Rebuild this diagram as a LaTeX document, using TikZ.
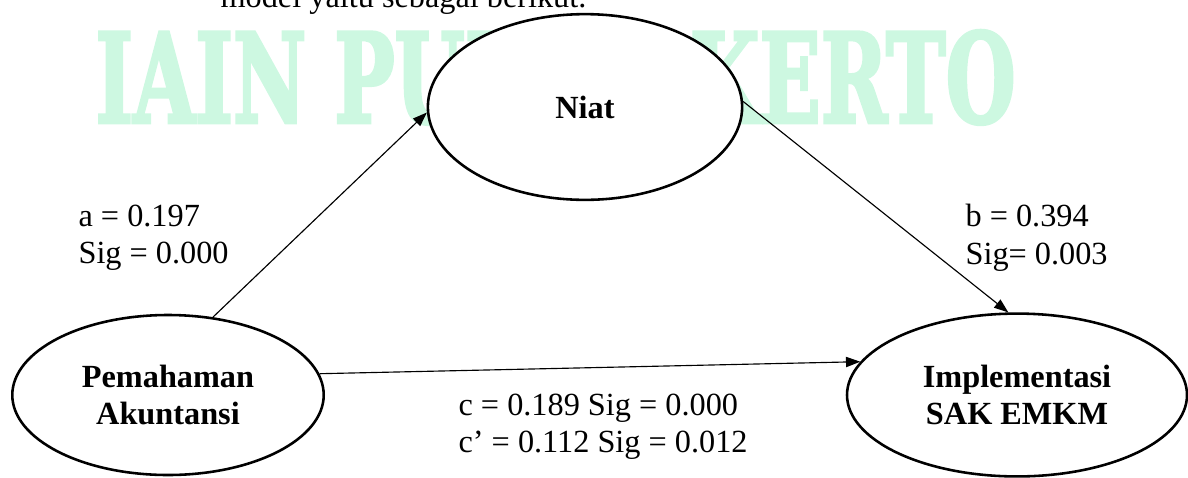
\documentclass[tikz,border=0pt]{standalone}
\usepackage{fontspec}
\setmainfont{Liberation Serif}
\newfontfamily\wmfont{DejaVu Serif}[BoldFeatures={FakeBold=3}]
\usepackage{xcolor}
\usetikzlibrary{arrows.meta, positioning, shapes.geometric}
\definecolor{wmgreen}{RGB}{205,248,225}

\begin{document}
\begin{tikzpicture}[
    x=0.35pt, y=-0.35pt,
    every node/.style={font=\fontsize{11.3}{13}\selectfont},
    var/.style={draw, ellipse, line width=0.9pt, fill=white, inner sep=0pt, align=center, font=\fontsize{11.3}{13}\selectfont\bfseries},
    lbl/.style={anchor=north west, inner sep=0pt, align=left},
    wmark/.style={anchor=north west, inner sep=0pt, text=wmgreen, font=\wmfont\bfseries},
    arr/.style={-{Triangle[length=5pt, width=3.6pt]}, line width=0.4pt}
]
\useasboundingbox (0,0) rectangle (1188,477);

% page text behind the figure
\node[anchor=base west, inner sep=0pt] (line) at (220,7) {model yaitu sebagai berikut.};
\node[wmark] (wm) at (95,30) {\resizebox{322pt}{32.2pt}{IAIN PURWOKERTO}};

% variables
\node[var, minimum width=110pt, minimum height=65pt] (niat) at (585,107) {\raisebox{-3pt}{Niat}};
\node[var, minimum width=109pt, minimum height=56pt] (paham) at (168,395) {Pemahaman\\Akuntansi};
\node[var, minimum width=119pt, minimum height=57pt] (sak) at (1017,395) {Implementasi\\SAK EMKM};

% paths
\draw[arr] (paham.60) -- (niat.182);
\draw[arr] (niat.2) -- (sak.96);
\draw[arr] (paham.8) -- (sak.168);

% coefficients
\node[lbl] (acoef) at (78,204) {a = 0.197\\Sig = 0.000};
\node[lbl] (bcoef) at (965,204) {b = 0.394\\Sig= 0.003};
\node[lbl] (ccoef) at (458,393) {c = 0.189 Sig = 0.000\\c’ = 0.112 Sig = 0.012};
\end{tikzpicture}
\end{document}
